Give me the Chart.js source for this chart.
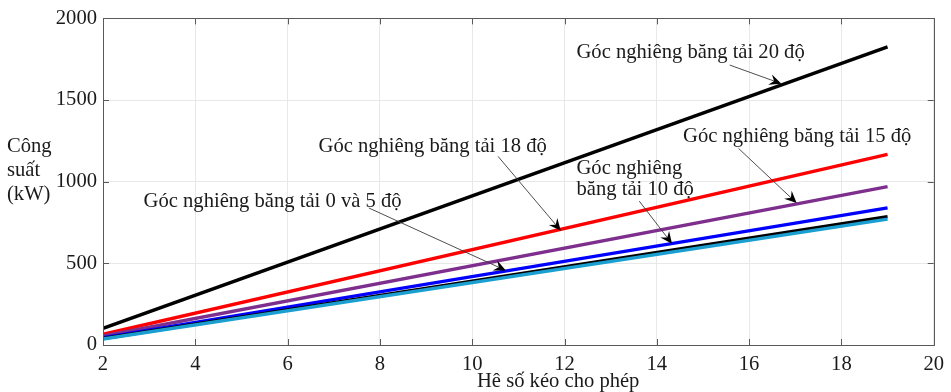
<!DOCTYPE html>
<html>
<head>
<meta charset="utf-8">
<script src="https://cdn.jsdelivr.net/npm/chart.js@4.4.1/dist/chart.umd.min.js"></script>
<style>
html,body{margin:0;padding:0;background:#fff;}
#wrap{width:951px;height:392px;position:relative;}
</style>
</head>
<body>
<div id="wrap"><canvas id="c" width="951" height="392"></canvas></div>
<script>
// ---- data ----
const xValues = [2, 19];
const angle20 = [102, 1825];
const angle18 = [66, 1167];
const angle15 = [55, 970];
const angle10 = [45, 840];
const angle5  = [40, 786];
const angle0  = [37, 771];
const xTicks = [2, 4, 6, 8, 10, 12, 14, 16, 18, 20];
const yTicks = [0, 500, 1000, 1500, 2000];
const xTitle = "Hê số kéo cho phép";
const yTitleLines = ["Công", "suất", "(kW)"];

// annotation texts and their anchor (data coords) and arrows (data coords)
const noteTexts = [
  ["Góc nghiêng băng tải 20 độ"],
  ["Góc nghiêng băng tải 18 độ"],
  ["Góc nghiêng băng tải 15 độ"],
  ["Góc nghiêng", "băng tải 10 độ"],
  ["Góc nghiêng băng tải 0 và 5 độ"]
];
const noteAnchorX = [12.26, 6.67, 14.57, 12.26, 2.88];
const noteAnchorY = [1793, 1216, 1277, 1082, 881];
const arrowFromX = [15.58, 10.56, 15.77, 13.62, 7.76];
const arrowFromY = [1714, 1155, 1204, 881, 839];
const arrowToX   = [16.70, 11.92, 17.03, 14.33, 10.73];
const arrowToY   = [1600, 700, 869, 620, 456];

const series = [
  {label: "0 độ",  values: angle0,  color: "#1a9fd0"},
  {label: "5 độ",  values: angle5,  color: "#000000"},
  {label: "10 độ", values: angle10, color: "#0000ff"},
  {label: "15 độ", values: angle15, color: "#7e2f8e"},
  {label: "18 độ", values: angle18, color: "#ff0000"},
  {label: "20 độ", values: angle20, color: "#000000"}
];

const FONT = "'Liberation Serif', 'Times New Roman', serif";
const FS = 20.6;
const TXT = "#1a1a1a";

const decor = {
  id: 'decor',
  afterDraw(chart) {
    const ctx = chart.ctx, a = chart.chartArea;
    const xs = chart.scales.x, ys = chart.scales.y;
    ctx.save();
    // box
    ctx.strokeStyle = '#5a5a5a';
    ctx.lineWidth = 1;
    ctx.strokeRect(Math.round(a.left) + 0.5, Math.round(a.top) + 0.5,
                   Math.round(a.right - a.left), Math.round(a.bottom - a.top));
    // inward ticks
    ctx.beginPath();
    const tl = 6;
    xTicks.forEach(v => {
      const px = Math.round(xs.getPixelForValue(v)) + 0.5;
      ctx.moveTo(px, a.bottom); ctx.lineTo(px, a.bottom - tl);
      ctx.moveTo(px, a.top); ctx.lineTo(px, a.top + tl);
    });
    yTicks.forEach(v => {
      const py = Math.round(ys.getPixelForValue(v)) + 0.5;
      ctx.moveTo(a.left, py); ctx.lineTo(a.left + tl, py);
      ctx.moveTo(a.right, py); ctx.lineTo(a.right - tl, py);
    });
    ctx.stroke();

    // annotations
    ctx.font = FS + "px " + FONT;
    ctx.fillStyle = TXT;
    ctx.textAlign = 'left';
    ctx.textBaseline = 'middle';
    noteTexts.forEach((lines, i) => {
      const x0 = xs.getPixelForValue(noteAnchorX[i]);
      const y0 = ys.getPixelForValue(noteAnchorY[i]);
      lines.forEach((t, j) => ctx.fillText(t, x0, y0 + j * 21.5));
      // arrow
      const x1 = xs.getPixelForValue(arrowFromX[i]), y1 = ys.getPixelForValue(arrowFromY[i]);
      const x2 = xs.getPixelForValue(arrowToX[i]), y2 = ys.getPixelForValue(arrowToY[i]);
      const ang = Math.atan2(y2 - y1, x2 - x1);
      const L = 12, W = 5.5;
      const bx = x2 - L * Math.cos(ang), by = y2 - L * Math.sin(ang);
      const nx = x2 - 0.65 * L * Math.cos(ang), ny = y2 - 0.65 * L * Math.sin(ang);
      ctx.strokeStyle = '#3a3a3a';
      ctx.lineWidth = 0.9;
      ctx.beginPath(); ctx.moveTo(x1, y1); ctx.lineTo(nx, ny); ctx.stroke();
      ctx.fillStyle = '#000';
      ctx.beginPath();
      ctx.moveTo(x2, y2);
      ctx.lineTo(bx + W * Math.sin(ang), by - W * Math.cos(ang));
      ctx.lineTo(nx, ny);
      ctx.lineTo(bx - W * Math.sin(ang), by + W * Math.cos(ang));
      ctx.closePath();
      ctx.fill();
      ctx.fillStyle = TXT;
    });

    // axis titles
    ctx.font = FS + "px " + FONT;
    ctx.textAlign = 'left';
    ctx.textBaseline = 'alphabetic';
    ctx.fillText(xTitle, 477, 387);
    ctx.textBaseline = 'middle';
    yTitleLines.forEach((t, j) => ctx.fillText(t, 7, 147 + j * 24));
    ctx.restore();
  }
};

new Chart(document.getElementById('c'), {
  type: 'line',
  data: {
    datasets: series.map(s => ({
      label: s.label,
      data: xValues.map((x, k) => ({x: x, y: s.values[k]})),
      borderColor: s.color,
      backgroundColor: s.color,
      borderWidth: 3.4,
      pointRadius: 0,
      tension: 0,
      fill: false
    }))
  },
  options: {
    responsive: false,
    animation: false,
    events: [],
    layout: {padding: {left: 0, top: 16, right: 13, bottom: 0}},
    plugins: {legend: {display: false}, tooltip: {enabled: false}},
    scales: {
      x: {
        type: 'linear', min: 2, max: 20,
        afterBuildTicks: s => { s.ticks = xTicks.map(v => ({value: v})); },
        afterFit: s => { s.height = 47; },
        ticks: {font: {family: FONT, size: FS}, color: TXT, padding: 7, maxRotation: 0,
                callback: v => String(v)},
        grid: {color: '#e8e8e8', drawTicks: false},
        border: {color: '#5a5a5a'}
      },
      y: {
        type: 'linear', min: 0, max: 2000,
        afterBuildTicks: s => { s.ticks = yTicks.map(v => ({value: v})); },
        afterFit: s => { s.width = 103; },
        ticks: {font: {family: FONT, size: FS}, color: TXT, padding: 6,
                callback: v => String(v)},
        grid: {color: '#e8e8e8', drawTicks: false},
        border: {color: '#5a5a5a'}
      }
    }
  },
  plugins: [decor]
});
</script>
</body>
</html>
